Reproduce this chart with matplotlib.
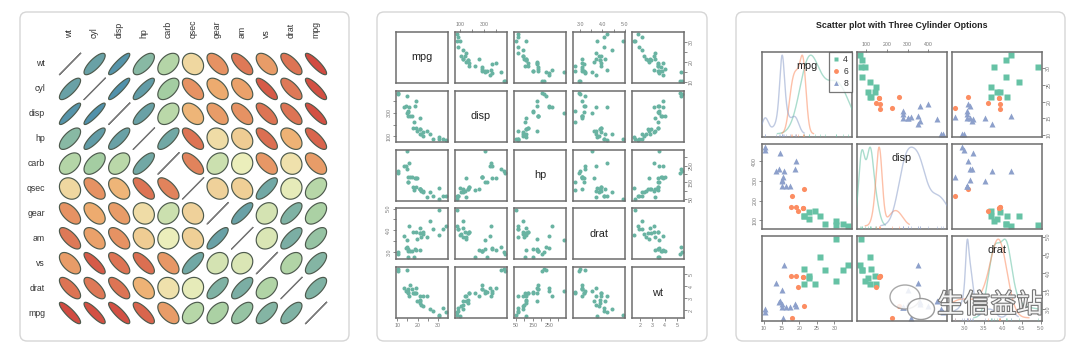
import numpy as np
import colorsys
import matplotlib
matplotlib.use('Agg')
import matplotlib.pyplot as plt
from matplotlib.patches import FancyBboxPatch, Polygon, Ellipse
from matplotlib.lines import Line2D
import matplotlib.patheffects as pe

plt.rcParams['font.family'] = ['Liberation Sans', 'DejaVu Sans']

# ---------------- data (mtcars) ----------------
mpg = [21.0, 21.0, 22.8, 21.4, 18.7, 18.1, 14.3, 24.4, 22.8, 19.2, 17.8, 16.4, 17.3, 15.2, 10.4, 10.4,
       14.7, 32.4, 30.4, 33.9, 21.5, 15.5, 15.2, 13.3, 19.2, 27.3, 26.0, 30.4, 15.8, 19.7, 15.0, 21.4]
cyl = [6, 6, 4, 6, 8, 6, 8, 4, 4, 6, 6, 8, 8, 8, 8, 8, 8, 4, 4, 4, 4, 8, 8, 8, 8, 4, 4, 4, 8, 6, 8, 4]
disp = [160, 160, 108, 258, 360, 225, 360, 146.7, 140.8, 167.6, 167.6, 275.8, 275.8, 275.8, 472, 460,
        440, 78.7, 75.7, 71.1, 120.1, 318, 304, 350, 400, 79, 120.3, 95.1, 351, 145, 301, 121]
hp = [110, 110, 93, 110, 175, 105, 245, 62, 95, 123, 123, 180, 180, 180, 205, 215, 230, 66, 52, 65,
      97, 150, 150, 245, 175, 66, 91, 113, 264, 175, 335, 109]
drat = [3.90, 3.90, 3.85, 3.08, 3.15, 2.76, 3.21, 3.69, 3.92, 3.92, 3.92, 3.07, 3.07, 3.07, 2.93, 3.00,
        3.23, 4.08, 4.93, 4.22, 3.70, 2.76, 3.15, 3.73, 3.08, 4.08, 4.43, 3.77, 4.22, 3.62, 3.54, 4.11]
wt = [2.620, 2.875, 2.320, 3.215, 3.440, 3.460, 3.570, 3.190, 3.150, 3.440, 3.440, 4.070, 3.730, 3.780,
      5.250, 5.424, 5.345, 2.200, 1.615, 1.835, 2.465, 3.520, 3.435, 3.840, 3.845, 1.935, 2.140, 1.513,
      3.170, 2.770, 3.570, 2.780]
qsec = [16.46, 17.02, 18.61, 19.44, 17.02, 20.22, 15.84, 20.00, 22.90, 18.30, 18.90, 17.40, 17.60, 18.00,
        17.98, 17.82, 17.42, 19.47, 18.52, 19.90, 20.01, 16.87, 17.30, 15.41, 17.05, 18.90, 16.70, 16.90,
        14.50, 15.50, 14.60, 18.60]
vs = [0, 0, 1, 1, 0, 1, 0, 1, 1, 1, 1, 0, 0, 0, 0, 0, 0, 1, 1, 1, 1, 0, 0, 0, 0, 1, 0, 1, 0, 0, 0, 1]
am = [1, 1, 1, 0, 0, 0, 0, 0, 0, 0, 0, 0, 0, 0, 0, 0, 0, 1, 1, 1, 0, 0, 0, 0, 0, 1, 1, 1, 1, 1, 1, 1]
gear = [4, 4, 4, 3, 3, 3, 3, 4, 4, 4, 4, 3, 3, 3, 3, 3, 3, 4, 4, 4, 3, 3, 3, 3, 3, 4, 5, 5, 5, 5, 5, 4]
carb = [4, 4, 1, 1, 2, 1, 4, 2, 2, 4, 4, 3, 3, 3, 4, 4, 4, 1, 2, 1, 1, 2, 2, 4, 2, 1, 2, 2, 4, 6, 8, 2]

columns = {'mpg': mpg, 'cyl': cyl, 'disp': disp, 'hp': hp, 'drat': drat, 'wt': wt,
           'qsec': qsec, 'vs': vs, 'am': am, 'gear': gear, 'carb': carb}

corr_vars = ['wt', 'cyl', 'disp', 'hp', 'carb', 'qsec', 'gear', 'am', 'vs', 'drat', 'mpg']
pair_vars = ['mpg', 'disp', 'hp', 'drat', 'wt']
pair_ticks = {'mpg': [10, 15, 20, 25, 30], 'disp': [100, 200, 300, 400],
              'hp': [50, 100, 150, 200, 250, 300], 'drat': [3.0, 3.5, 4.0, 4.5, 5.0], 'wt': [2, 3, 4, 5]}
pair_ticklabels = {'mpg': ['10', '', '20', '', '30'], 'disp': ['100', '', '300', ''],
                   'hp': ['50', '', '150', '', '250', ''], 'drat': ['3.0', '', '4.0', '', '5.0'],
                   'wt': ['2', '3', '4', '5']}
sp_vars = ['mpg', 'disp', 'drat']
sp_ticks = {'mpg': [10, 15, 20, 25, 30], 'disp': [100, 200, 300, 400], 'drat': [3.0, 3.5, 4.0, 4.5, 5.0]}
sp_ticklabels = {'mpg': ['10', '15', '20', '25', '30'], 'disp': ['100', '200', '300', '400'],
                 'drat': ['3.0', '3.5', '4.0', '4.5', '5.0']}
cyl_levels = [4, 6, 8]
cyl_colors = ['#66C2A5', '#FC8D62', '#8DA0CB']
cyl_markers = ['s', 'o', '^']
spectral5 = ['#D7191C', '#FDAE61', '#FFFFBF', '#ABDDA4', '#2B83BA']
title3 = 'Scatter plot with Three Cylinder Options'

# ---------------- helpers ----------------
W, H = 1080, 353
fig = plt.figure(figsize=(W / 100, H / 100), dpi=100)
fig.patch.set_facecolor('white')


def px_axes(x0, y0, w, h):
    return fig.add_axes([x0 / W, 1 - (y0 + h) / H, w / W, h / H])


def rrange(v):
    lo, hi = min(v), max(v)
    e = 0.04 * (hi - lo)
    return lo - e, hi + e


def mute(rgb, s_fac=0.85, v_fac=0.94):
    h, s, v = colorsys.rgb_to_hsv(*rgb)
    return colorsys.hsv_to_rgb(h, s * s_fac, v * v_fac)


def ramp(hexes, n):
    rgb = np.array([matplotlib.colors.to_rgb(h) for h in hexes])
    pos = np.linspace(0, 1, len(hexes))
    xs = np.linspace(0, 1, n)
    return [mute(tuple(np.interp(x, pos, rgb[:, k]) for k in range(3))) for x in xs]


def bw_nrd0(x):
    hi = np.std(x, ddof=1)
    q75, q25 = np.percentile(x, [75, 25])
    lo = min(hi, (q75 - q25) / 1.34)
    if lo <= 0:
        lo = hi if hi > 0 else 1.0
    return 0.9 * lo * len(x) ** -0.2


def adaptive_density(x, n=500, cut=3):
    x = np.asarray(x, float)
    bw = bw_nrd0(x)
    grid = np.linspace(x.min() - cut * bw, x.max() + cut * bw, n)

    def fhat(g, h):
        h = np.broadcast_to(h, x.shape)
        z = (g[:, None] - x[None, :]) / h[None, :]
        return np.mean(np.exp(-0.5 * z ** 2) / (np.sqrt(2 * np.pi) * h[None, :]), axis=1)

    pilot = fhat(x, bw)
    gm = np.exp(np.mean(np.log(pilot)))
    lam = (pilot / gm) ** -0.5
    return grid, fhat(grid, bw * lam)


# ---------------- cards ----------------
bg = px_axes(0, 0, W, H)
bg.set_xlim(0, W)
bg.set_ylim(H, 0)
bg.axis('off')
bg.set_zorder(-5)
for (x0, x1) in [(20, 349), (377, 707), (736, 1065)]:
    bg.add_patch(FancyBboxPatch((x0, 12), x1 - x0, 329, boxstyle='round,pad=0,rounding_size=7',
                                fc='white', ec='#d6d6d6', lw=1.0))

# ---------------- panel 1: correlation ellipses ----------------
M = np.array([columns[v] for v in corr_vars], float)
R = np.corrcoef(M)
pal = ramp(spectral5, 100)
n = len(corr_vars)
ax1 = px_axes(57.7, 51.55, 270.6, 273.9)
ax1.set_xlim(0.5, n + 0.5)
ax1.set_ylim(0.5, n + 0.5)
ax1.axis('off')
tt = np.linspace(0, 2 * np.pi, 120)
for i in range(n):
    for j in range(n):
        r = float(np.clip(R[j, i], -1, 1))
        d = np.arccos(r)
        ex = 0.43 * np.cos(tt + d / 2) + (i + 1)
        ey = 0.43 * np.cos(tt - d / 2) + (n - j)
        if i == j:
            ax1.plot(ex, ey, color='#7a7a7a', lw=0.9)
        else:
            idx = max(int(r * 50 + 50), 1)
            ax1.add_patch(Polygon(np.column_stack([ex, ey]), closed=True, fc=pal[idx - 1],
                                  ec='#4d5a4d', lw=0.85))
for k, v in enumerate(corr_vars):
    ax1.text(-0.02, n - k, v, ha='right', va='center', fontsize=6.3, color='#333333', clip_on=False)
    ax1.text(k + 1, 12.04, v, ha='center', va='bottom', rotation=90, fontsize=6.3, color='#333333',
             clip_on=False)

# ---------------- panel 2: pairs ----------------
spine_c = '#6e6e6e'
tick_kw = dict(length=2.2, width=0.6, colors='#777777', labelsize=3.8, pad=1.2)
np2 = len(pair_vars)
for r in range(np2):
    for c in range(np2):
        ax = px_axes(396 + c * 59, 32 + r * 58.75, 52, 51)
        vx, vy = pair_vars[c], pair_vars[r]
        ax.set_xlim(*rrange(columns[vx]))
        ax.set_ylim(*rrange(columns[vy]))
        for s in ax.spines.values():
            s.set_color(spine_c)
            s.set_linewidth(1.1)
        ax.set_xticks([])
        ax.set_yticks([])
        if r == c:
            ax.text(0.5, 0.5, vx, transform=ax.transAxes, ha='center', va='center',
                    fontsize=7.8, color='#222222')
        else:
            ax.plot(columns[vx], columns[vy], 'o', ls='none', ms=2.9, color='#69b3a2', mec='none')
        if r == 0 and c % 2 == 1:
            ax.set_xticks(pair_ticks[vx])
            ax.set_xticklabels(pair_ticklabels[vx])
            ax.xaxis.tick_top()
        if r == np2 - 1 and c % 2 == 0:
            ax.set_xticks(pair_ticks[vx])
            ax.set_xticklabels(pair_ticklabels[vx])
        if c == 0 and r % 2 == 1:
            ax.set_yticks(pair_ticks[vy])
            ax.set_yticklabels(pair_ticklabels[vy], rotation=90, va='center')
        if c == np2 - 1 and r % 2 == 0:
            ax.set_yticks(pair_ticks[vy])
            ax.set_yticklabels(pair_ticklabels[vy], rotation=90, va='center')
            ax.yaxis.tick_right()
        ax.set_xlim(*rrange(columns[vx]))
        ax.set_ylim(*rrange(columns[vy]))
        ax.tick_params(axis='both', **tick_kw)

# ---------------- panel 3: scatterplot matrix by cyl ----------------
cyl_arr = np.array(cyl)
fig.text(902 / W, 1 - 25 / H, title3, ha='center', va='center', fontsize=6.4, fontweight='bold',
         color='#222222')
np3 = len(sp_vars)
for r in range(np3):
    for c in range(np3):
        ax = px_axes(762 + c * 95, 52 + r * 92, 89.5, 85)
        vx, vy = sp_vars[c], sp_vars[r]
        xv = np.array(columns[vx], float)
        yv = np.array(columns[vy], float)
        ax.set_xlim(*rrange(xv))
        ax.set_ylim(*rrange(yv))
        for s in ax.spines.values():
            s.set_color(spine_c)
            s.set_linewidth(1.1)
        ax.set_xticks([])
        ax.set_yticks([])
        if r == c:
            axd = ax.twinx()
            axd.set_ylim(-0.04, 1.04)
            axd.set_yticks([])
            for s in axd.spines.values():
                s.set_visible(False)
            for g, col in zip(cyl_levels, cyl_colors):
                gx, gy = adaptive_density(xv[cyl_arr == g])
                axd.plot(gx, gy / gy.max(), color=col, lw=1.0, alpha=0.55)
                axd.vlines(xv[cyl_arr == g], -0.04, -0.005, color=col, lw=0.6, alpha=0.5)
            axd.text(0.5, 0.835, vx, transform=axd.transAxes, ha='center', va='center',
                     fontsize=7.8, color='#222222')
            if r == 0:
                handles = [Line2D([], [], marker=m, ls='none', color=col, ms=3.5, mec='none')
                           for m, col in zip(cyl_markers, cyl_colors)]
                leg = axd.legend(handles, [str(g) for g in cyl_levels], loc='upper right',
                                 borderaxespad=0, fontsize=6.2, frameon=True, fancybox=False,
                                 handlelength=0.7, handletextpad=0.5, borderpad=0.4,
                                 labelspacing=0.35)
                leg.get_frame().set_edgecolor('#555555')
                leg.get_frame().set_linewidth(0.9)
                for t in leg.get_texts():
                    t.set_color('#333333')
        else:
            for g, col, m in zip(cyl_levels, cyl_colors, cyl_markers):
                sel = cyl_arr == g
                ax.plot(xv[sel], yv[sel], m, ls='none', ms=3.7, color=col, mec='none')
        if r == 0 and c % 2 == 1:
            ax.set_xticks(sp_ticks[vx])
            ax.set_xticklabels(sp_ticklabels[vx])
            ax.xaxis.tick_top()
        if r == np3 - 1 and c % 2 == 0:
            ax.set_xticks(sp_ticks[vx])
            ax.set_xticklabels(sp_ticklabels[vx])
        if c == 0 and r % 2 == 1:
            ax.set_yticks(sp_ticks[vy])
            ax.set_yticklabels(sp_ticklabels[vy], rotation=90, va='center')
        if c == np3 - 1 and r % 2 == 0:
            ax.set_yticks(sp_ticks[vy])
            ax.set_yticklabels(sp_ticklabels[vy], rotation=90, va='center')
            ax.yaxis.tick_right()
        ax.set_xlim(*rrange(xv))
        ax.set_ylim(*rrange(yv))
        ax.tick_params(axis='both', **tick_kw)

# ---------------- watermark ----------------
ov = px_axes(0, 0, W, H)
ov.set_xlim(0, W)
ov.set_ylim(H, 0)
ov.axis('off')
ov.set_zorder(30)
ov.patch.set_alpha(0)
ov.add_patch(Ellipse((905, 297), 30, 24, fc='white', ec='#9a9a9a', lw=1.0, alpha=0.85))
ov.add_patch(Ellipse((921, 309), 27, 21, fc='white', ec='#8a8a8a', lw=1.0, alpha=0.85))
ov.text(990, 305, '生信益站', fontsize=19, family=['Noto Sans CJK SC'], color='white',
        ha='center', va='center', alpha=0.92,
        path_effects=[pe.withStroke(linewidth=1.6, foreground='#6a6a6a')])

fig.savefig('out.png', dpi=100, facecolor='white')
